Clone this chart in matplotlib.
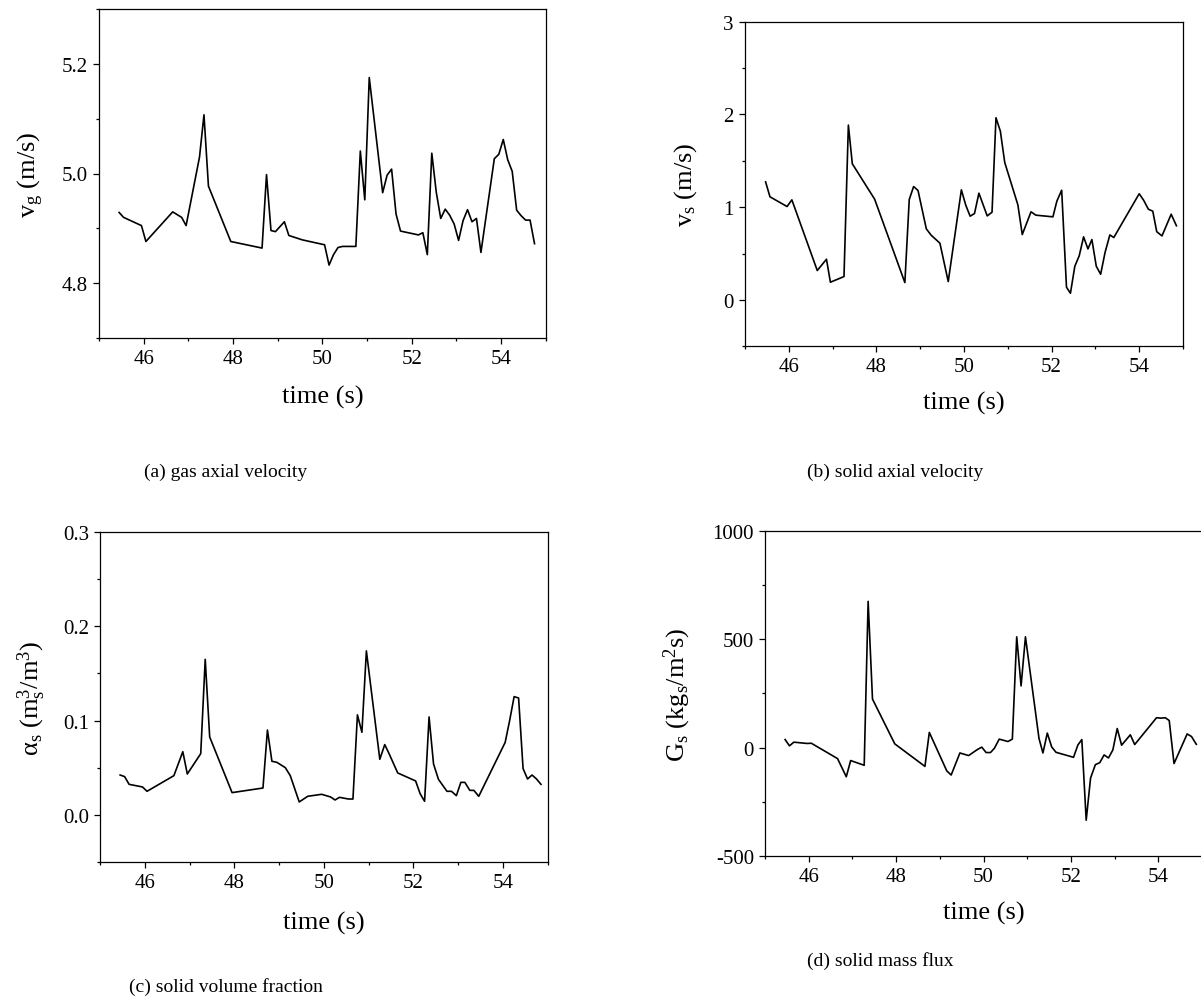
import matplotlib
matplotlib.use("Agg")
import matplotlib.pyplot as plt
from matplotlib.ticker import MultipleLocator, FormatStrFormatter

plt.rcParams['font.family'] = ['Liberation Serif', 'DejaVu Serif']
plt.rcParams['mathtext.fontset'] = 'custom'
plt.rcParams['mathtext.rm'] = 'Liberation Serif'
plt.rcParams['mathtext.it'] = 'Liberation Serif:italic'

# (a) gas axial velocity
t_a = [45.45, 45.55, 45.95, 46.05, 46.65, 46.85, 46.95, 47.25, 47.35, 47.45,
       47.95, 48.65, 48.75, 48.85, 48.95, 49.15, 49.25, 49.55, 50.05, 50.15,
       50.25, 50.35, 50.45, 50.75, 50.85, 50.95, 51.05, 51.35, 51.45, 51.55,
       51.65, 51.75, 52.15, 52.25, 52.35, 52.45, 52.55, 52.65, 52.75, 52.85,
       52.95, 53.05, 53.15, 53.25, 53.35, 53.45, 53.55, 53.85, 53.95, 54.05,
       54.15, 54.25, 54.35, 54.45, 54.55, 54.65, 54.75]
vg = [4.929, 4.920, 4.905, 4.876, 4.930, 4.920, 4.905, 5.030, 5.107, 4.977,
      4.876, 4.864, 4.998, 4.896, 4.894, 4.912, 4.887, 4.879, 4.870, 4.833,
      4.852, 4.865, 4.867, 4.867, 5.041, 4.952, 5.175, 4.965, 4.997, 5.008,
      4.926, 4.895, 4.888, 4.892, 4.852, 5.037, 4.966, 4.918, 4.935, 4.924,
      4.908, 4.878, 4.914, 4.934, 4.912, 4.918, 4.856, 5.027, 5.035, 5.062,
      5.025, 5.004, 4.933, 4.923, 4.915, 4.915, 4.872]

# (b) solid axial velocity
t_b = [45.47, 45.57, 45.96, 46.07, 46.65, 46.86, 46.95, 47.26, 47.36, 47.45,
       47.96, 48.65, 48.75, 48.85, 48.95, 49.14, 49.25, 49.45, 49.64, 49.94,
       50.04, 50.14, 50.24, 50.34, 50.53, 50.64, 50.73, 50.83, 50.93, 51.23,
       51.33, 51.53, 51.64, 52.03, 52.12, 52.23, 52.34, 52.43, 52.53, 52.63,
       52.73, 52.83, 52.92, 53.02, 53.12, 53.22, 53.33, 53.42, 54.0, 54.1,
       54.21, 54.31, 54.4, 54.52, 54.73, 54.85]
vs = [1.273, 1.112, 1.007, 1.079, 0.317, 0.439, 0.191, 0.252, 1.885, 1.468,
      1.086, 0.187, 1.083, 1.223, 1.180, 0.766, 0.698, 0.612, 0.198, 1.187,
      1.022, 0.903, 0.932, 1.151, 0.906, 0.946, 1.964, 1.820, 1.482, 1.025,
      0.705, 0.950, 0.914, 0.896, 1.065, 1.183, 0.137, 0.072, 0.363, 0.475,
      0.680, 0.550, 0.651, 0.363, 0.277, 0.511, 0.701, 0.673, 1.145, 1.076,
      0.978, 0.957, 0.736, 0.690, 0.924, 0.800]

# (c) solid volume fraction
t_c = [45.45, 45.55, 45.65, 45.95, 46.05, 46.65, 46.85, 46.95, 47.25, 47.35,
       47.45, 47.95, 48.64, 48.74, 48.84, 48.95, 49.14, 49.25, 49.45, 49.64,
       49.95, 50.15, 50.25, 50.35, 50.55, 50.65, 50.75, 50.85, 50.95, 51.25,
       51.36, 51.45, 51.65, 52.05, 52.15, 52.25, 52.35, 52.45, 52.56, 52.75,
       52.85, 52.96, 53.06, 53.15, 53.26, 53.35, 53.46, 54.05, 54.15, 54.25,
       54.35, 54.45, 54.55, 54.65, 54.75, 54.85]
alpha_s = [0.0421, 0.0404, 0.0322, 0.0294, 0.0248, 0.0414, 0.0669, 0.0432, 0.0648, 0.165,
           0.0825, 0.0234, 0.0283, 0.0899, 0.0567, 0.0556, 0.0499, 0.0414, 0.0135, 0.0195,
           0.0216, 0.0188, 0.0156, 0.0184, 0.0166, 0.0166, 0.106, 0.0875, 0.174, 0.0588,
           0.0744, 0.0655, 0.0443, 0.0358, 0.0223, 0.0142, 0.1038, 0.0538, 0.0375, 0.0248,
           0.0248, 0.0202, 0.0343, 0.0343, 0.0258, 0.0258, 0.0195, 0.0768, 0.100, 0.1254,
           0.1239, 0.0489, 0.0379, 0.0421, 0.0379, 0.0322]

# (d) solid mass flux
t_d = [45.46, 45.56, 45.66, 45.96, 46.06, 46.66, 46.86, 46.96, 47.27, 47.36,
       47.46, 47.97, 48.66, 48.76, 49.16, 49.26, 49.46, 49.66, 49.86, 49.96,
       50.06, 50.16, 50.25, 50.36, 50.56, 50.66, 50.76, 50.86, 50.96, 51.27,
       51.36, 51.46, 51.56, 51.66, 52.06, 52.16, 52.25, 52.35, 52.45, 52.56,
       52.66, 52.76, 52.86, 52.96, 53.06, 53.16, 53.36, 53.46, 53.96, 54.06,
       54.16, 54.25, 54.36, 54.66, 54.76, 54.87]
Gs = [37, 8, 25, 19, 20, -51, -135, -60, -82, 676,
      224, 17, -87, 70, -108, -127, -25, -37, -9, 2,
      -23, -23, -3, 39, 28, 39, 512, 285, 512, 42,
      -25, 67, 3, -22, -45, 12, 37, -336, -141, -79,
      -70, -34, -48, -11, 88, 11, 59, 14, 138, 136,
      138, 125, -74, 63, 51, 15]

W, H = 1201, 1003
fig = plt.figure(figsize=(W / 100, H / 100), dpi=100)

def box(x0, y0, x1, y1):
    # pixel box (top-left origin) -> figure fraction
    return [x0 / W, 1 - y1 / H, (x1 - x0) / W, (y1 - y0) / H]

panels = [
    (box(99, 10, 545.7, 339), t_a, vg, (4.7, 5.3), 0.2, 0.1, '%.1f',
     r'v$_\mathrm{g}$ (m/s)', -0.152, -0.179),
    (box(745, 22.7, 1183, 347.3), t_b, vs, (-0.5, 3), 1, 0.5, '%d',
     r'v$_\mathrm{s}$ (m/s)', -0.135, -0.172),
    (box(100, 533.3, 547.7, 862.7), t_c, alpha_s, (-0.05, 0.3), 0.1, 0.05, '%.1f',
     r'α$_\mathrm{s}$ (m$_\mathrm{s}^\mathrm{3}$/m$^\mathrm{3}$)', -0.152, -0.183),
    (box(765, 532.3, 1202, 856.7), t_d, Gs, (-500, 1000), 500, 250, '%d',
     r'G$_\mathrm{s}$ (kg$_\mathrm{s}$/m$^\mathrm{2}$s)', -0.2, -0.174),
]

for rect, t, y, ylim, major, minor, fmt, ylab, ylx, xly in panels:
    ax = fig.add_axes(rect)
    ax.plot(t, y, color='black', lw=1.2)
    ax.set_xlim(45, 55)
    ax.set_ylim(*ylim)
    ax.xaxis.set_major_locator(MultipleLocator(2))
    ax.xaxis.set_minor_locator(MultipleLocator(1))
    ax.yaxis.set_major_locator(MultipleLocator(major))
    ax.yaxis.set_minor_locator(MultipleLocator(minor))
    ax.yaxis.set_major_formatter(FormatStrFormatter(fmt))
    ax.tick_params(which='both', direction='out', top=False, right=False,
                   labelsize=15, width=0.9)
    ax.tick_params(which='major', length=4, pad=4)
    ax.tick_params(which='minor', length=2.5)
    for sp in ax.spines.values():
        sp.set_linewidth(0.9)
    ax.set_xlabel('time (s)', fontsize=19)
    ax.set_ylabel(ylab, fontsize=19)
    ax.xaxis.set_label_coords(0.5, xly)
    ax.xaxis.label.set_va('center')
    ax.yaxis.set_label_coords(ylx, 0.5)
    ax.yaxis.label.set_va('center')

fig.text(226 / W, 1 - 472 / H, '(a) gas axial velocity', fontsize=14, ha='center', va='center')
fig.text(895 / W, 1 - 472 / H, '(b) solid axial velocity', fontsize=14, ha='center', va='center')
fig.text(226 / W, 1 - 987 / H, '(c) solid volume fraction', fontsize=14, ha='center', va='center')
fig.text(880 / W, 1 - 961 / H, '(d) solid mass flux', fontsize=14, ha='center', va='center')

fig.savefig('out.png', dpi=100)
